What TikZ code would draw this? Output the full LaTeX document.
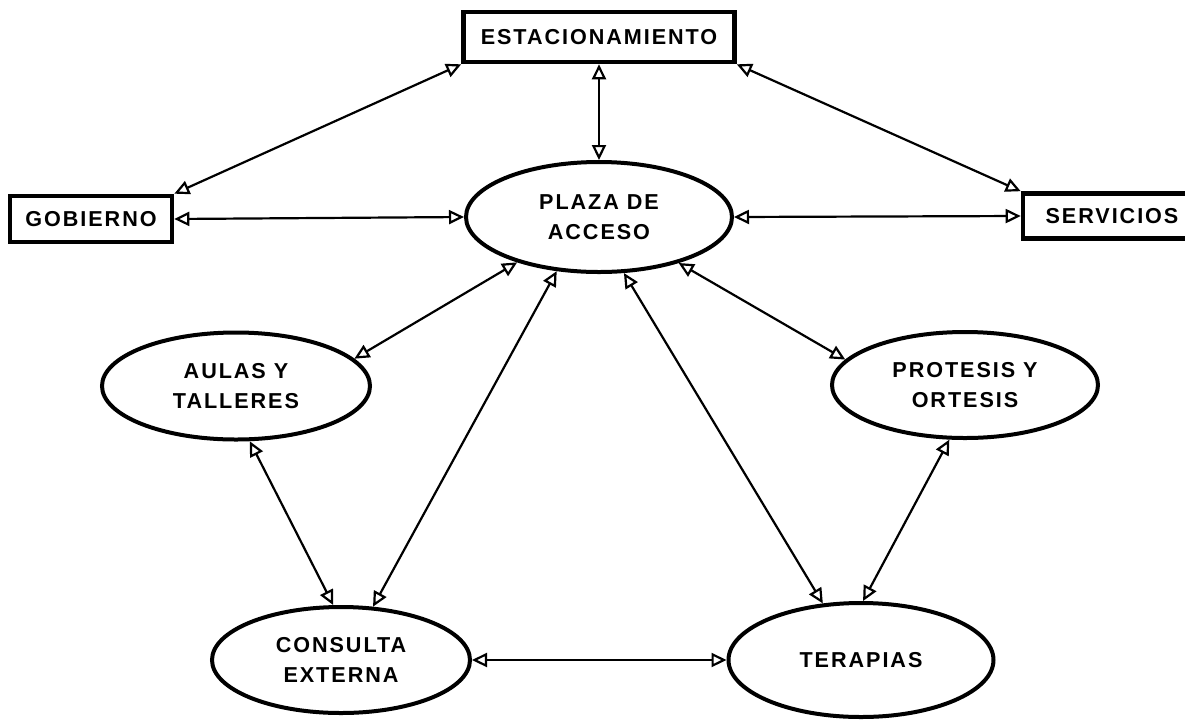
\documentclass[tikz,border=0pt]{standalone}
\usepackage{fontspec}
\newfontfamily\labfont[LetterSpace=9]{Liberation Sans}
\usetikzlibrary{positioning,arrows.meta,shapes.geometric}

\begin{document}
\begin{tikzpicture}[x=0.5pt,y=-0.5pt,>={Triangle[open,length=7.5pt,width=7pt]},
  lbl/.style={font=\labfont\bfseries\fontsize{10.8}{15}\selectfont,align=center,inner sep=0pt},
  block/.style={lbl,draw,rectangle,line width=2.3pt},
  area/.style={lbl,draw,ellipse,line width=2pt},
  link/.style={<->,line width=1.1pt}]
\useasboundingbox[fill=white] (0,0) rectangle (1185,719);

\node[block,minimum width=135.5pt,minimum height=25pt] (estac) at (599,37) {ESTACIONAMIENTO};
\node[block,minimum width=81pt,minimum height=23pt] (gob) at (91,219) {GOBIERNO};
\node[block,minimum width=89pt,minimum height=22.5pt] (serv) at (1112,216) {SERVICIOS};

\node[area,minimum width=133pt,minimum height=55pt] (plaza) at (599,217) {PLAZA DE\\ACCESO};
\node[area,minimum width=134pt,minimum height=53.5pt] (aulas) at (236,386) {AULAS Y\\TALLERES};
\node[area,minimum width=133pt,minimum height=53pt] (protesis) at (965,385) {PROTESIS Y\\ORTESIS};
\node[area,minimum width=129pt,minimum height=53pt] (consulta) at (341,660) {CONSULTA\\EXTERNA};
\node[area,minimum width=132.5pt,minimum height=57pt] (terapias) at (861,660) {TERAPIAS};

\draw[link] (estac.south west) -- (gob.north east);
\draw[link] (estac.south) -- (plaza.north);
\draw[link] (estac.south east) -- (serv.north west);
\draw[link] (gob.east) -- (plaza.west);
\draw[link] (plaza.east) -- (serv.west);
\draw[link] (plaza.209) -- (aulas.13);
\draw[link] (plaza.232) -- (consulta.59);
\draw[link] (plaza.294) -- (terapias.124);
\draw[link] (plaza.330) -- (protesis.168);
\draw[link] (aulas.284) -- (consulta.98);
\draw[link] (protesis.254) -- (terapias.88);
\draw[link] (consulta.east) -- (terapias.west);
\end{tikzpicture}
\end{document}
